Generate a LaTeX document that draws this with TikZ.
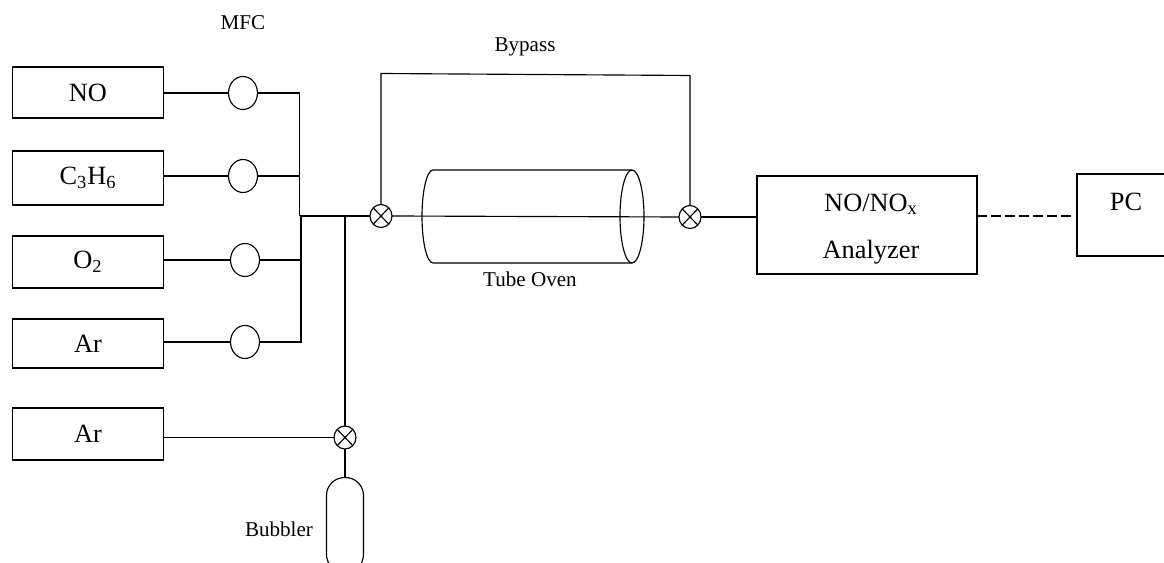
\documentclass[tikz,border=0pt]{standalone}
\usepackage{fontspec}
\setmainfont{Liberation Serif}
\usetikzlibrary{shapes.geometric}
\tikzset{
  pipe/.style={line width=0.65pt},
  gasbox/.style={draw, pipe, inner sep=0pt, outer sep=0pt, minimum width=3.02cm, font=\fontsize{15}{18}\selectfont},
  mfc/.style={draw, pipe, ellipse, inner sep=0pt, outer sep=0pt, minimum width=0.58cm, minimum height=0.66cm},
  valve/.style={draw, pipe, ellipse, inner sep=0pt, outer sep=0pt, minimum width=0.44cm, minimum height=0.46cm,
    path picture={\draw[pipe] (path picture bounding box.north west) -- (path picture bounding box.south east);
      \draw[pipe] (path picture bounding box.north east) -- (path picture bounding box.south west);}},
  tag/.style={font=\fontsize{12}{14}\selectfont, inner sep=0pt}
}
\begin{document}
\begin{tikzpicture}[x=0.02cm, y=-0.02cm]
\useasboundingbox (0,0) rectangle (1164,563);
\node[gasbox, minimum height=1.02cm] (no) at (88,92.5) {NO};
\node[gasbox, minimum height=1.08cm] (propene) at (88,178) {C\textsubscript{3}H\textsubscript{6}};
\node[gasbox, minimum height=1.04cm] (oxygen) at (88,262) {O\textsubscript{2}};
\node[gasbox, minimum height=0.98cm] (argon) at (88,343.5) {Ar};
\node[gasbox, minimum height=1.04cm] (carrier) at (88,434) {Ar};
\node[mfc] (mfcNO) at (243,93) {};
\node[mfc] (mfcHC) at (243,176) {};
\node[mfc] (mfcOX) at (245,260) {};
\node[mfc] (mfcAR) at (245,342) {};
\node[tag] (mfclabel) at (243,23) {MFC};
\node[valve] (valvein) at (381,216) {};
\node[valve] (valveout) at (690,217) {};
\node[valve] (valvebub) at (345,437.5) {};
\node[draw, pipe, ellipse, inner sep=0pt, outer sep=0pt, minimum width=0.48cm, minimum height=1.86cm] (ovencap) at (632,216.5) {};
\node[tag] (ovenlabel) at (530,279) {Tube Oven};
\node[tag] (bypasslabel) at (525,47) {Bypass};
\node[gasbox, minimum width=4.4cm, minimum height=1.96cm] (analyzer) at (867,225) {};
\node[font=\fontsize{15}{18}\selectfont, inner sep=0pt, align=center] (analyzerlabel) at (871,229) {NO/NO\textsubscript{x}\\[0.32cm] Analyzer};
\node[gasbox, minimum width=2.0cm, minimum height=1.64cm] (pc) at (1127,215) {};
\node[font=\fontsize{15}{18}\selectfont, inner sep=0pt] (pclabel) at (1126,202) {PC};
\node[draw, pipe, rounded corners=0.36cm, inner sep=0pt, outer sep=0pt, minimum width=0.74cm, minimum height=1.9cm] (bubbler) at (345,525) {};
\node[tag] (bubblerlabel) at (279,529) {Bubbler};
\coordinate (ovenback) at (433,216.5);
\coordinate (bustop) at (299.5,216);
\coordinate (buslow) at (301,216);
\coordinate (tee) at (345,216);
\coordinate (cornerin) at (381,73.5);
\coordinate (cornerout) at (690,75.5);
\coordinate (pcport) at (1075,216);
\draw[pipe] (ovencap.north) -- (ovenback |- ovencap.north) arc[start angle=90, end angle=270, x radius=0.22cm, y radius=0.93cm] -- (ovencap.south);
\draw[pipe] (no.east |- mfcNO.west) -- (mfcNO.west);
\draw[pipe] (propene.east |- mfcHC.west) -- (mfcHC.west);
\draw[pipe] (oxygen.east |- mfcOX.west) -- (mfcOX.west);
\draw[pipe] (argon.east |- mfcAR.west) -- (mfcAR.west);
\draw[pipe] (mfcNO.east) -| (bustop);
\draw[pipe] (mfcHC.east) -- (mfcHC.east -| bustop);
\draw[pipe] (mfcOX.east) -| (buslow);
\draw[pipe] (mfcAR.east) -| (buslow);
\draw[pipe] (bustop) -- (valvein.west);
\draw[pipe] (tee) -- (valvebub.north);
\draw[pipe] (carrier.east |- valvebub.west) -- (valvebub.west);
\draw[pipe] (valvebub.south) -- (bubbler.north);
\draw[pipe] (valvein.north) -- (cornerin) -- (cornerout) -- (valveout.north);
\draw[pipe] (valvein.east) -- (valveout.west);
\draw[pipe] (valveout.east) -- (analyzer.west |- valveout.east);
\draw[pipe, dash pattern=on 5.5pt off 2.5pt] (analyzer.east |- pcport) -- (pcport);
\end{tikzpicture}
\end{document}
